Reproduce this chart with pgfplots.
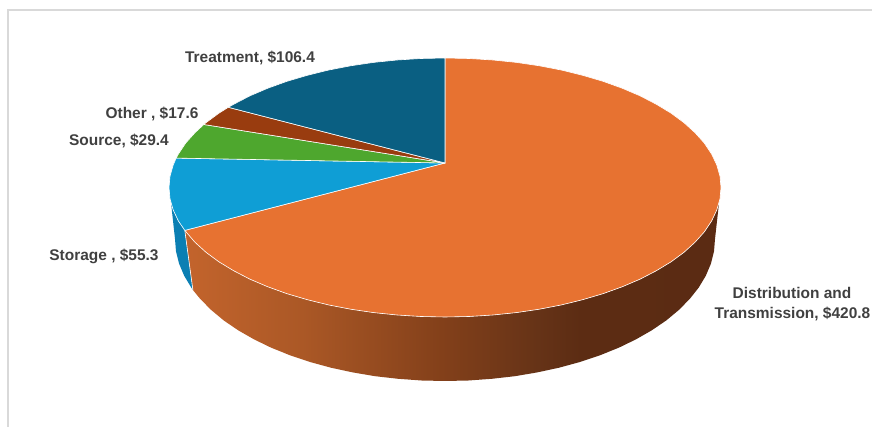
\documentclass[border=0pt]{standalone}
\usepackage{pgfplots}
\pgfplotsset{compat=1.18}
\usepackage{fontspec}
\setmainfont{Liberation Sans}

% Side wall of the largest slice: lit on the left, falling into shadow on the right.
% The central 25bp..75bp span is stretched over the width of the wall.
\pgfdeclarehorizontalshading{sidewall}{100bp}{
  rgb(0bp)=(0.765,0.392,0.173);
  rgb(25bp)=(0.765,0.392,0.173);
  rgb(36bp)=(0.670,0.345,0.149);
  rgb(49bp)=(0.514,0.251,0.102);
  rgb(58bp)=(0.400,0.200,0.090);
  rgb(62bp)=(0.361,0.173,0.075);
  rgb(75bp)=(0.357,0.169,0.075);
  rgb(100bp)=(0.357,0.169,0.075)}

\definecolor{distcol}{HTML}{E77231}
\definecolor{storcol}{HTML}{0F9ED5}
\definecolor{storside}{HTML}{0B7FB3}
\definecolor{sourcol}{HTML}{4EA72E}
\definecolor{othcol}{HTML}{993C0F}
\definecolor{treatcol}{HTML}{0A5F82}
\definecolor{labelcol}{HTML}{404040}
\definecolor{framecol}{HTML}{D9D9D9}

\tikzset{
  slice/.style={draw=white, line width=0.45pt, line join=round},
  lab/.style={font=\bfseries\fontsize{11.6}{13}\selectfont, text=labelcol, inner sep=0pt, anchor=center},
}

\begin{document}
\begin{tikzpicture}
\begin{axis}[
  scale only axis, width=654pt, height=320.25pt,
  xmin=0, xmax=872, ymin=0, ymax=427, y dir=reverse,
  axis lines=none,
]
% keep the whole plot area in the picture
\path (axis cs:0,0) rectangle (axis cs:872,427);

% chart frame
\addplot[framecol, line width=0.9pt] coordinates {(8,427) (8,10) (872,10)};

% side wall of Storage
\addplot[fill=storside, draw=none] coordinates {
  (171.1,203.3) (173.2,210.0) (178.4,221.0) (184.8,230.4)
  (192.9,290.0) (191.3,287.6) (184.2,275.8) (179.1,263.7) (176.0,251.4) (175.0,239.0)
} -- cycle;

% side wall of Distribution and Transmission
\addplot[shading=sidewall, draw=none] coordinates {
  (719.0,203.0) (716.8,210.0) (711.6,221.0) (704.4,231.8) (695.1,242.2) (684.0,252.3)
  (671.1,261.8) (656.4,270.7) (640.2,279.1) (622.4,286.7) (603.3,293.6) (583.0,299.6)
  (561.6,304.9) (539.4,309.2) (516.4,312.6) (492.9,315.0) (469.1,316.5) (445.0,317.0)
  (420.9,316.5) (397.1,315.0) (373.6,312.6) (350.6,309.2) (328.4,304.9) (307.0,299.6)
  (286.7,293.6) (267.6,286.7) (249.8,279.1) (233.6,270.7) (218.9,261.8) (206.0,252.3)
  (194.9,242.2) (184.8,230.4)
  (192.9,290.0) (200.3,299.0) (211.2,310.0) (223.8,320.5) (238.2,330.3) (254.1,339.4)
  (271.4,347.8) (290.1,355.3) (310.0,362.0) (330.9,367.7) (352.7,372.4) (375.1,376.2)
  (398.1,378.8) (421.5,380.5) (445.0,381.0) (468.5,380.5) (491.9,378.8) (514.9,376.2)
  (537.3,372.4) (559.1,367.7) (580.0,362.0) (599.9,355.3) (618.6,347.8) (635.9,339.4)
  (651.8,330.3) (666.2,320.5) (678.8,310.0) (689.7,299.0) (698.7,287.6) (705.8,275.8)
  (710.9,263.7) (714.0,251.4) (715.0,239.0)
} -- cycle;

% seam between the two side walls
\addplot[white, line width=0.45pt] coordinates {(184.8,230.4) (192.9,290.0)};

% top face, one outline per slice: 420.8, 55.3, 29.4, 17.6, 106.4
\addplot[slice, fill=distcol] coordinates {
  (445.0,163.0) (445.0,58.0)
  (469.1,58.5) (492.9,60.0) (516.4,62.4) (539.4,65.8) (561.6,70.1) (583.0,75.4)
  (603.3,81.4) (622.4,88.3) (640.2,95.9) (656.4,104.3) (671.1,113.2) (684.0,122.7)
  (695.1,132.8) (704.4,143.2) (711.6,154.0) (716.8,165.0) (720.0,176.2) (721.0,187.5)
  (720.0,198.8) (716.8,210.0) (711.6,221.0) (704.4,231.8) (695.1,242.2) (684.0,252.3)
  (671.1,261.8) (656.4,270.7) (640.2,279.1) (622.4,286.7) (603.3,293.6) (583.0,299.6)
  (561.6,304.9) (539.4,309.2) (516.4,312.6) (492.9,315.0) (469.1,316.5) (445.0,317.0)
  (420.9,316.5) (397.1,315.0) (373.6,312.6) (350.6,309.2) (328.4,304.9) (307.0,299.6)
  (286.7,293.6) (267.6,286.7) (249.8,279.1) (233.6,270.7) (218.9,261.8) (206.0,252.3)
  (194.9,242.2) (184.8,230.4)
} -- cycle;
\addplot[slice, fill=storcol] coordinates {
  (445.0,163.0) (184.8,230.4) (178.4,221.0) (173.2,210.0) (170.0,198.8) (169.0,187.5)
  (170.0,176.2) (173.2,165.0) (176.2,158.1)
} -- cycle;
\addplot[slice, fill=sourcol] coordinates {
  (445.0,163.0) (176.2,158.1) (178.4,154.0) (185.6,143.2) (194.9,132.8) (203.8,124.5)
} -- cycle;
\addplot[slice, fill=othcol] coordinates {
  (445.0,163.0) (203.8,124.5) (206.0,122.7) (218.9,113.2) (228.3,107.3)
} -- cycle;
\addplot[slice, fill=treatcol] coordinates {
  (445.0,163.0) (228.3,107.3) (233.6,104.3) (249.8,95.9) (267.6,88.3) (286.7,81.4)
  (307.0,75.4) (328.4,70.1) (350.6,65.8) (373.6,62.4) (397.1,60.0) (420.9,58.5) (445.0,58.0)
} -- cycle;

% data labels
\node[lab] at (axis cs:250,58.2) {Treatment, \$106.4};
\node[lab] at (axis cs:152,113.8) {Other , \$17.6};
\node[lab] at (axis cs:119,141.2) {Source, \$29.4};
\node[lab] at (axis cs:104,256.2) {Storage , \$55.3};
\node[lab] at (axis cs:792,292.8) {Distribution and};
\node[lab] at (axis cs:792.5,313.8) {Transmission, \$420.8};
\end{axis}
\end{tikzpicture}
\end{document}
